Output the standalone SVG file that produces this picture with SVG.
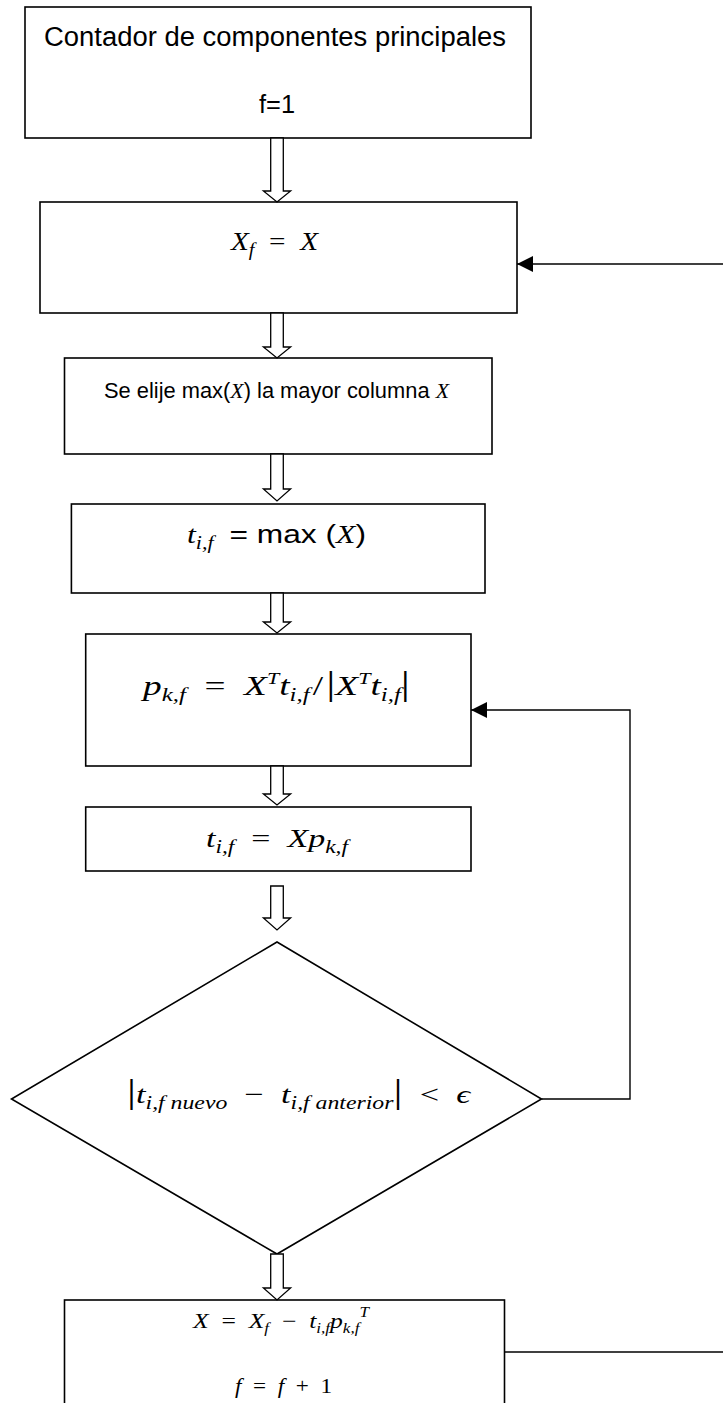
<svg xmlns="http://www.w3.org/2000/svg" width="723" height="1403" viewBox="0 0 723 1403">
<defs>
<marker id="ah" markerWidth="16" markerHeight="16" refX="16" refY="8" orient="auto" markerUnits="userSpaceOnUse"><path d="M0,0 L16,8 L0,16 z" fill="#000"/></marker>
</defs>
<style>
.box{fill:#fff;stroke:#000;stroke-width:1.6}
.blk{fill:#fff;stroke:#000;stroke-width:1.3}
.ln{fill:none;stroke:#000;stroke-width:1.4}
.sans{font-family:"Liberation Sans",Arial,sans-serif;font-style:normal;fill:#000}
.m{font-family:"Liberation Serif","DejaVu Serif",serif;font-style:italic;fill:#000}
.it{font-family:"Liberation Serif","DejaVu Serif",serif;font-style:italic}
.up{font-style:normal}
</style>
<rect width="723" height="1403" fill="#fff"/>

<g id="n1">
<rect class="box" x="25" y="7" width="506" height="131"/>
<text class="sans" x="44" y="46" font-size="27" textLength="462" lengthAdjust="spacingAndGlyphs">Contador de componentes principales</text>
<text class="sans" x="259" y="113" font-size="26" textLength="36" lengthAdjust="spacingAndGlyphs">f=1</text>
</g>

<g id="n2">
<rect class="box" x="40" y="202" width="477" height="111"/>
<text class="m" x="231" y="250" font-size="26" textLength="87" lengthAdjust="spacingAndGlyphs">X<tspan font-size="18" dy="6">f</tspan><tspan class="up" dy="-6">&#8194;=&#8194;</tspan>X</text>
</g>

<g id="n3">
<rect class="box" x="64.5" y="358" width="427.5" height="96"/>
<text class="sans" x="104" y="398" font-size="22" textLength="345" lengthAdjust="spacingAndGlyphs">Se elije max(<tspan class="it">X</tspan>) la mayor columna <tspan class="it">X</tspan></text>
</g>

<g id="n4">
<rect class="box" x="71.4" y="504" width="413.6" height="89"/>
<text class="sans" x="187" y="543" font-size="26" textLength="179" lengthAdjust="spacingAndGlyphs"><tspan class="it">t</tspan><tspan class="it" font-size="18" dy="6">i,f</tspan><tspan dy="-6">&#8194;= max (</tspan><tspan class="it">X</tspan>)</text>
</g>

<g id="n5">
<rect class="box" x="85.7" y="634" width="385.3" height="132"/>
<text class="m" x="143" y="695" font-size="27" textLength="267" lengthAdjust="spacingAndGlyphs">p<tspan font-size="18" dy="6">k,f</tspan><tspan class="up" dy="-6">&#8194;=&#8194;</tspan>X<tspan font-size="16" dy="-11">T</tspan><tspan dy="11">t</tspan><tspan font-size="18" dy="6">i,f</tspan><tspan class="up" dy="-6">&#8202;/&#8202;</tspan><tspan class="up" font-size="33">|</tspan>X<tspan font-size="16" dy="-11">T</tspan><tspan dy="11">t</tspan><tspan font-size="18" dy="6">i,f</tspan><tspan class="up" font-size="33" dy="-6">|</tspan></text>
</g>

<g id="n6">
<rect class="box" x="85.7" y="807" width="385.3" height="64"/>
<text class="m" x="206" y="847" font-size="26" textLength="142" lengthAdjust="spacingAndGlyphs">t<tspan font-size="18" dy="6">i,f</tspan><tspan class="up" dy="-6">&#8194;=&#8194;</tspan>Xp<tspan font-size="18" dy="6">k,f</tspan></text>
</g>

<g id="n7">
<polygon class="box" points="277,942 541.5,1099 277,1254 11.5,1099"/>
<text class="m" x="127" y="1103" font-size="26" textLength="343" lengthAdjust="spacingAndGlyphs"><tspan class="up" font-size="34">|</tspan>t<tspan font-size="18" dy="6">i,f nuevo</tspan><tspan class="up" dy="-6">&#8194;−&#8194;</tspan>t<tspan font-size="18" dy="6">i,f anterior</tspan><tspan class="up" font-size="34" dy="-6">|</tspan><tspan class="up">&#8194;&lt;&#8194;</tspan>ϵ</text>
</g>

<g id="n8">
<rect class="box" x="64.5" y="1300" width="440" height="120"/>
<text class="m" x="193" y="1328" font-size="21" textLength="176" lengthAdjust="spacingAndGlyphs">X<tspan class="up">&#8194;=&#8194;</tspan>X<tspan font-size="14" dy="5">f</tspan><tspan class="up" dy="-5">&#8194;−&#8194;</tspan>t<tspan font-size="14" dy="5">i,f</tspan><tspan dy="-5">p</tspan><tspan font-size="14" dy="5">k,f</tspan><tspan font-size="14" dy="-16">T</tspan></text>
<text class="m" x="235" y="1393" font-size="22" textLength="97" lengthAdjust="spacingAndGlyphs">f<tspan class="up">&#8194;=&#8194;</tspan>f<tspan class="up">&#8194;+&#8194;1</tspan></text>
</g>

<g id="connectors">
<path class="blk" d="M270.7,138 H283.3 V191 H290.6 L277,202 L263.4,191 H270.7 Z"/>
<path class="blk" d="M270.7,313 H283.3 V347 H290.6 L277,358 L263.4,347 H270.7 Z"/>
<path class="blk" d="M270.7,454 H283.3 V489 H290.6 L277,501 L263.4,489 H270.7 Z"/>
<path class="blk" d="M270.7,593 H283.3 V622 H290.6 L277,633 L263.4,622 H270.7 Z"/>
<path class="blk" d="M270.7,766 H283.3 V794 H290.6 L277,805 L263.4,794 H270.7 Z"/>
<path class="blk" d="M270.7,886 H283.3 V918 H290.6 L277,930 L263.4,918 H270.7 Z"/>
<path class="blk" d="M270.7,1254 H283.3 V1288 H290.6 L277,1300 L263.4,1288 H270.7 Z"/>
<line class="ln" x1="723" y1="264" x2="517" y2="264" marker-end="url(#ah)"/>
<polyline class="ln" points="541.5,1099 630,1099 630,710 471,710" marker-end="url(#ah)"/>
<line class="ln" x1="504.5" y1="1352" x2="723" y2="1352"/>
</g>
</svg>
